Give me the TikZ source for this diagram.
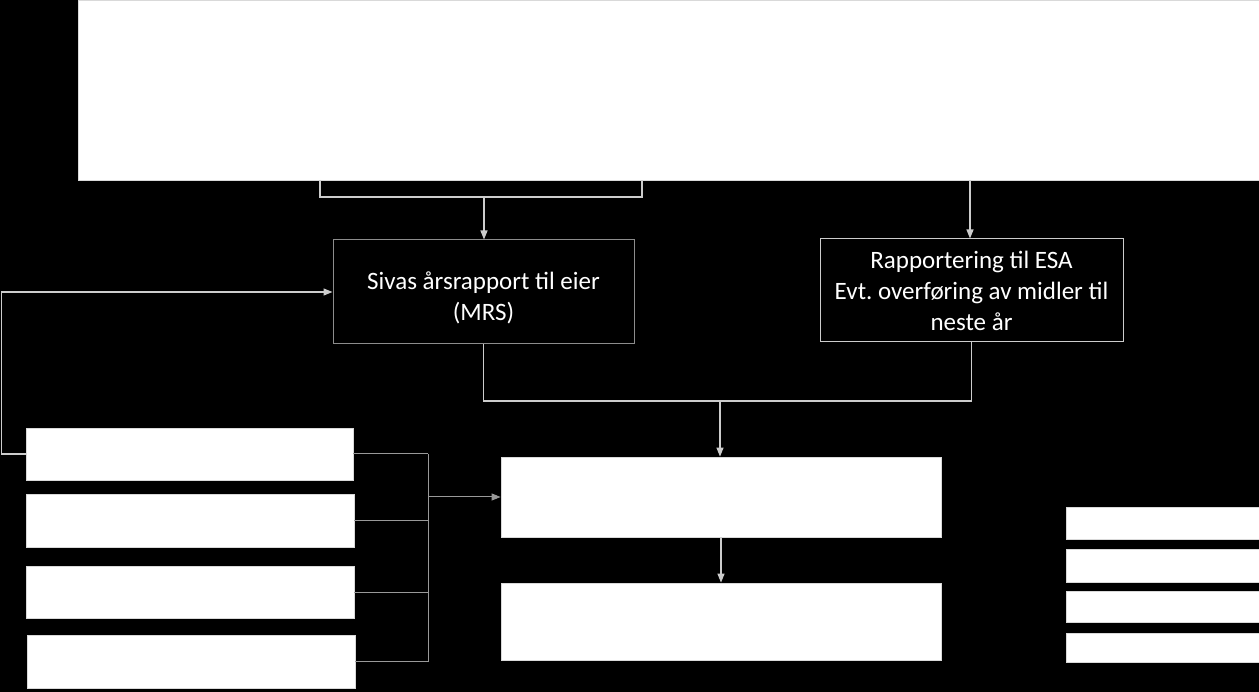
\documentclass[tikz,border=0pt]{standalone}
\usepackage{fontspec}
\setmainfont{Carlito}
\frenchspacing
\usetikzlibrary{arrows.meta}
\tikzset{
  wbox/.style={rectangle, fill=white, draw=white!85!black, line width=0.8pt, inner sep=0pt},
  kbox/.style={rectangle, fill=black, draw=white!55!black, line width=1pt, inner sep=0pt, text=white,
    align=center, font=\fontsize{25}{31}\selectfont},
  conn/.style={draw=white!80!black, line width=1.3pt},
  thin/.style={draw=white!60!black, line width=1pt},
  arr/.style={conn, -{Triangle[length=9pt,width=7pt]}},
  tarr/.style={thin, -{Triangle[length=9pt,width=7pt]}}
}
\begin{document}
\begin{tikzpicture}[x=1pt,y=-1pt]
\fill[black] (0,0) rectangle (1259,692);
\useasboundingbox (0,0) rectangle (1259,692);
% boxes
\node[wbox, minimum width=1181pt, minimum height=180pt] (top) at (668.5,90) {};
\node[kbox, minimum width=301pt, minimum height=104pt] (mrs) at (483.5,292)
  {\rule{0pt}{30pt}Sivas årsrapport til eier\\(MRS)};
\node[kbox, draw=white!80!black, minimum width=303pt, minimum height=103pt] (esa) at (971.5,290.5)
  {Rapportering til ESA\\Evt. overføring av midler til\\neste år};
\node[wbox, minimum width=327pt, minimum height=52pt] (l1) at (189.5,454) {};
\node[wbox, minimum width=328pt, minimum height=53pt] (l2) at (190,520.5) {};
\node[wbox, minimum width=328pt, minimum height=52pt] (l3) at (190,592) {};
\node[wbox, minimum width=328pt, minimum height=53pt] (l4) at (191,661.5) {};
\node[wbox, minimum width=440pt, minimum height=80pt] (c1) at (721,497) {};
\node[wbox, minimum width=440pt, minimum height=77pt] (c2) at (721,621.5) {};
\node[wbox, minimum width=193pt, minimum height=32pt] (r1) at (1162.5,523) {};
\node[wbox, minimum width=193pt, minimum height=33pt] (r2) at (1162.5,565.5) {};
\node[wbox, minimum width=193pt, minimum height=31pt] (r3) at (1162.5,606.5) {};
\node[wbox, minimum width=193pt, minimum height=29pt] (r4) at (1162.5,647.5) {};
% bracket under top box
\coordinate (bL) at (320,180);
\coordinate (bR) at (642,180);
\coordinate (bM) at (484,197);
\draw[conn] (bL) |- (bM) -| (bR);
\draw[arr] (bM) -- (bM |- mrs.north);
% arrow to ESA
\coordinate (eT) at (970,180);
\draw[arr] (eT) -- (eT |- esa.north);
% merge to c1
\coordinate (j1) at (720,401);
\draw[conn] (mrs.south) |- (j1) -| (esa.south);
\draw[arr] (j1) -- (j1 |- c1.north);
% loop from l1 to mrs
\draw[arr] (l1.west) -- ++(-24,0) |- (mrs.west);
% bus from left boxes
\coordinate (bus) at (428,497);
\draw[thin] (l1.east) -- (l1.east -| bus);
\draw[thin] (l2.east) -- (l2.east -| bus);
\draw[thin] (l3.east) -- (l3.east -| bus);
\draw[thin] (l4.east) -- (l4.east -| bus);
\draw[thin] (bus |- l1.east) -- (bus |- l4.east);
\draw[tarr] (bus) -- (c1.west);
% c1 to c2
\draw[arr] (c1.south) -- (c2.north);
\end{tikzpicture}
\end{document}
